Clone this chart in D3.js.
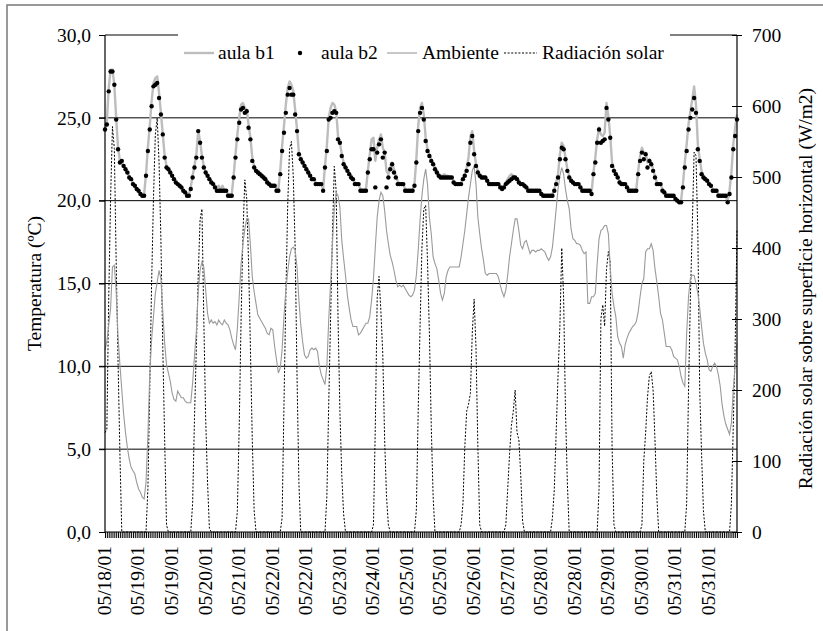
<!DOCTYPE html>
<html>
<head>
<meta charset="utf-8">
<script src="https://cdn.jsdelivr.net/npm/d3@7"></script>
<style>
  body { margin: 0; background: #fff; }
  svg text { font-family: "Liberation Serif", "Times New Roman", serif; fill: #000; }
</style>
</head>
<body>
<svg id="chart" width="823" height="631"></svg>
<script>
// hourly readings, first one is 05/18/01 09:00
const radiacion = [
  140,145,330,470,571,540,380,240,110,0, 0,0,0,0,0,0,0,0,0,0,0,0,
  0,60,200,350,470,560,583,520,410,260,130,10,
  0,0,0,0,0,0,0,0,0,0,0,0,0,
  40,160,260,360,440,455,300,160,70,5,
  0,0,0,0,0,0,0,0,0,0,0,0,0,0,
  30,150,300,420,496,470,380,260,130,30,
  0,0,0,0,0,0,0,0,0,0,0,0,0,0,
  20,180,330,460,540,550,500,400,220,70,
  0,0,0,0,0,0,0,0,0,0,0,0,0,0,
  50,180,300,420,515,480,300,170,80,25,
  0,0,0,0,0,0,0,0,0,0,0,0,0,0,0,
  10,150,330,360,310,250,130,50,10,
  0,0,0,0,0,0,0,0,0,0,0,0,0,0,
  30,170,290,400,455,460,380,280,150,50,
  0,0,0,0,0,0,0,0,0,0,0,0,0,0,
  10,40,120,170,180,195,280,328,260,120,10,
  0,0,0,0,0,0,0,0,0,0,0,0,0,
  10,60,110,150,170,200,140,130,80,15,
  0,0,0,0,0,0,0,0,0,0,0,0,0,0,0,
  20,60,140,220,290,400,330,170,70,
  0,0,0,0,0,0,0,0,0,0,0,0,0,0,0,0,
  60,300,320,290,370,395,380,120,10,
  0,0,0,0,0,0,0,0,0,0,0,0,0,0,
  10,100,140,190,220,226,200,130,50,
  0,0,0,0,0,0,0,0,0,0,0,0,0,0,0,
  40,200,330,430,535,530,420,200,110,30,
  0,0,0,0,0,0,0,0,0,0,0,0,0,0,
  40,150,260,425
];

const ambiente = [
  11.0,11.5,12.5,13.5,16.0,16.1,14.5,11.8,10.1,8.6,7.1,6.0,5.1,4.4,3.9,3.7,3.5,3.0,2.6,2.4,2.1,2.0,
  3.0,5.8,9.5,11.6,13.0,14.4,15.1,15.8,15.3,13.3,11.4,10.1,9.6,9.1,8.4,8.0,7.9,8.5,8.3,8.1,8.1,7.9,7.8,7.8,7.8,
  9.0,10.6,12.1,14.5,15.8,16.3,16.0,14.6,13.2,12.6,12.8,12.6,12.7,12.5,12.8,12.6,12.5,12.8,12.6,12.5,12.2,11.7,11.3,11.0,
  12.3,14.2,16.2,17.4,18.3,18.9,18.9,17.3,15.4,14.5,13.8,13.1,12.9,12.7,12.5,12.3,12.0,11.9,12.3,12.2,11.2,10.4,9.6,9.9,
  11.0,13.0,14.6,15.7,16.6,17.1,17.2,17.0,16.0,14.0,12.5,11.5,10.7,10.5,10.6,11.0,11.1,11.0,11.1,10.9,10.0,9.5,9.2,8.9,
  10.0,12.8,15.0,17.4,19.5,20.5,20.3,19.6,17.6,16.5,15.5,14.3,13.5,12.8,12.4,12.4,12.4,11.9,12.0,12.2,12.4,12.6,12.6,13.0,
  14.0,15.3,17.2,19.0,20.0,20.5,20.3,19.4,18.2,17.4,16.7,16.3,15.8,15.2,14.8,14.9,14.8,14.9,14.7,14.5,14.3,14.2,14.3,14.6,
  15.5,17.0,18.8,20.3,21.3,21.9,21.0,19.0,18.0,16.6,16.2,15.9,15.2,14.4,14.0,14.4,15.4,15.8,16.0,16.0,16.0,16.0,16.0,16.0,
  16.6,17.4,18.2,19.2,20.2,21.0,21.8,22.1,21.0,19.0,18.0,17.1,16.4,15.6,15.5,15.6,15.6,15.6,15.6,15.6,15.4,14.9,14.5,14.2,
  14.6,15.5,16.6,17.4,18.2,18.9,18.9,18.2,17.3,17.1,17.5,17.6,17.2,16.8,17.0,17.0,16.9,17.0,17.0,17.1,17.0,16.9,16.6,16.4,
  16.6,17.2,18.3,19.5,20.7,21.5,22.0,21.6,20.7,20.0,19.5,18.3,17.7,17.6,17.4,17.4,17.3,17.0,16.8,16.9,13.8,13.8,14.2,14.2,
  14.4,16.2,17.7,18.2,18.3,18.5,18.5,18.0,16.0,14.4,13.6,13.0,11.8,11.4,11.2,10.5,11.3,11.7,12.0,12.2,12.4,12.5,12.7,13.3,
  14.2,15.0,15.3,16.9,17.1,17.1,17.4,17.0,15.9,15.1,14.2,13.2,12.8,12.0,11.2,11.2,11.2,11.0,10.6,10.5,10.4,10.0,9.4,9.0,
  8.8,12.0,14.2,15.3,15.5,15.5,15.0,14.4,13.5,12.4,11.4,10.8,10.4,9.8,9.7,10.0,10.2,10.0,9.5,8.8,7.7,7.0,6.5,6.2,
  5.9,6.6,8.6,10.0,11.4
];

const aulaB1 = [
  24.2,24.8,26.8,27.9,27.9,27.0,25.0,23.2,22.4,22.3,22.1,21.9,21.7,21.5,21.3,21.1,20.9,20.7,20.6,20.4,20.3,20.4,
  21.6,23.2,24.5,26.0,27.1,27.4,27.5,26.5,25.3,24.0,22.7,22.1,21.9,21.7,21.5,21.3,21.1,21.0,20.9,20.8,20.6,20.5,20.4,20.4,
  20.8,21.5,22.1,22.8,24.2,23.6,22.7,22.1,21.7,21.5,21.4,21.2,21.1,20.9,20.8,20.9,20.7,20.9,20.6,20.6,20.4,20.3,20.4,
  21.5,22.8,24.0,25.0,25.8,25.9,25.6,25.5,24.6,23.8,22.6,22.1,21.9,21.8,21.7,21.6,21.5,21.4,21.2,21.1,21.0,20.9,20.9,20.7,20.7,
  21.8,23.3,24.5,25.8,26.8,27.2,27.0,26.6,25.5,24.3,22.9,22.6,22.4,22.2,22.0,21.8,21.6,21.4,21.3,21.1,21.0,21.0,21.0,20.7,
  22.1,23.3,25.0,25.6,25.9,25.8,25.4,23.9,23.5,22.8,22.3,22.1,21.9,21.7,21.5,21.3,21.1,21.0,21.0,20.7,20.6,20.6,20.7,
  21.8,22.8,23.7,23.8,22.4,23.2,23.7,24.0,23.2,22.9,21.8,21.6,22.0,22.3,21.9,21.5,21.2,21.0,21.0,21.0,20.7,20.6,20.6,20.6,20.6,21.0,
  22.5,24.5,25.6,25.9,25.2,23.8,23.1,22.8,22.5,22.3,22.0,21.8,21.6,21.5,21.5,21.6,21.5,21.5,21.4,21.4,21.2,21.1,21.0,21.0,21.1,
  21.4,21.6,22.0,22.6,23.9,24.2,23.0,22.2,21.8,21.6,21.5,21.4,21.4,21.3,21.1,21.0,21.0,21.0,21.0,21.0,20.9,20.8,20.9,
  21.1,21.3,21.5,21.6,21.5,21.4,21.3,21.2,21.0,21.0,20.9,20.8,20.7,20.6,20.6,20.6,20.6,20.6,20.6,20.5,20.4,20.3,20.3,20.3,20.3,20.4,20.7,21.1,
  21.6,22.8,23.5,23.3,22.6,21.9,21.5,21.3,21.1,21.0,21.0,21.0,20.9,20.7,20.6,20.6,20.6,20.6,20.5,
  21.7,22.6,23.7,24.4,24.0,23.9,24.1,25.9,25.1,23.9,22.3,21.9,21.7,21.5,21.2,21.1,21.0,21.0,20.9,20.7,20.6,20.6,20.6,20.7,
  21.8,22.7,23.2,22.9,22.9,22.3,22.5,22.3,21.9,21.5,21.1,21.0,21.0,20.7,20.6,20.4,20.3,20.3,20.3,20.3,20.2,20.0,19.9,20.0,
  21.0,22.3,23.4,24.6,25.4,26.1,26.9,25.8,23.4,22.5,21.8,21.5,21.4,21.2,21.1,20.9,20.7,20.6,20.6,20.4,20.3,20.3,20.3,20.2,20.0,
  20.6,21.7,23.4,24.4,25.2
];

const aulaB2 = [
  24.3,24.6,26.6,27.8,27.8,27.0,24.9,23.1,22.3,22.4,22.1,21.9,21.7,21.4,21.3,21.0,20.9,20.7,20.6,20.4,20.3,20.3,
  21.5,23.0,24.3,25.7,26.9,27.0,27.1,26.2,25.2,24.0,22.6,22.0,21.9,21.7,21.5,21.3,21.1,21.0,20.9,20.8,20.6,20.5,20.3,20.3,
  20.7,21.4,22.0,22.6,24.2,23.5,22.6,22.0,21.7,21.5,21.3,21.1,21.0,20.8,20.6,20.6,20.6,20.6,20.6,20.6,20.3,20.3,20.3,
  21.4,22.6,23.7,24.7,25.5,25.6,25.3,25.4,24.4,23.7,22.4,22.0,21.8,21.7,21.6,21.5,21.4,21.3,21.1,21.0,20.9,20.9,20.9,20.6,20.6,
  21.6,23.0,24.1,25.3,26.4,26.8,26.4,26.4,25.2,24.2,22.8,22.5,22.3,22.1,21.9,21.7,21.5,21.3,21.3,21.0,21.0,21.0,21.0,20.6,
  22.0,23.0,24.9,25.0,25.3,25.4,25.3,23.7,23.5,22.7,22.2,22.0,21.8,21.6,21.4,21.3,21.0,21.0,21.0,20.6,20.6,20.6,20.6,
  21.7,22.5,23.1,23.1,20.8,22.9,23.4,23.7,22.6,22.9,20.8,21.4,21.9,22.2,21.7,21.4,21.0,21.0,21.0,21.0,20.6,20.6,20.6,20.6,20.6,20.9,
  22.3,24.2,25.3,25.6,24.9,23.6,23.0,22.7,22.4,22.2,21.9,21.7,21.5,21.4,21.4,21.4,21.4,21.4,21.4,21.4,21.1,21.0,21.0,21.0,21.0,
  21.3,21.5,21.8,22.2,23.5,23.9,22.8,22.1,21.7,21.5,21.4,21.4,21.4,21.2,21.0,21.0,21.0,21.0,21.0,21.0,20.8,20.7,20.8,
  21.0,21.1,21.2,21.3,21.4,21.4,21.3,21.1,21.0,21.0,20.9,20.8,20.6,20.6,20.6,20.6,20.6,20.6,20.6,20.4,20.3,20.3,20.3,20.3,20.3,20.3,20.6,21.0,
  21.4,22.5,23.2,23.1,22.5,21.8,21.4,21.2,21.1,21.0,21.0,21.0,20.8,20.6,20.6,20.6,20.6,20.6,20.4,
  21.6,22.3,23.5,24.3,23.5,23.6,23.7,25.6,24.9,23.8,22.1,21.8,21.6,21.4,21.1,21.0,21.0,21.0,20.8,20.6,20.6,20.6,20.6,20.6,
  21.6,22.4,22.9,22.5,22.8,22.0,22.4,22.2,21.8,21.4,21.0,21.0,21.0,20.6,20.5,20.3,20.3,20.3,20.3,20.3,20.1,20.0,19.9,19.9,
  20.8,22.0,23.0,24.3,25.0,25.5,26.2,25.3,23.1,22.4,21.6,21.4,21.3,21.2,21.0,20.9,20.6,20.6,20.6,20.3,20.3,20.3,20.3,20.3,19.9,
  20.4,21.4,23.1,23.9,24.9
];

// Excel style category axis: one label every 18 hours
const dateLabels = [
  "05/18/01","05/19/01","05/19/01","05/20/01","05/21/01","05/22/01","05/22/01",
  "05/23/01","05/24/01","05/25/01","05/25/01","05/26/01","05/27/01","05/28/01",
  "05/28/01","05/29/01","05/30/01","05/31/01","05/31/01"
];
const labelEvery = 18;
const tempTicks = [0, 5, 10, 15, 20, 25, 30];
const radTicks = [0, 100, 200, 300, 400, 500, 600, 700];

const svg = d3.select('#chart');
const pL = 105, pR = 737, pT = 35, pB = 532;
const fontSize = '19.5px';
const serif = '"Liberation Serif", "Times New Roman", serif';

// outer chart frame
svg.append('rect')
    .attr('x', 7).attr('y', 5)
    .attr('width', 840).attr('height', 650)
    .attr('fill', 'none')
    .attr('stroke', '#808080')
    .attr('stroke-width', 1.6);

const n = aulaB2.length;
const x = d3.scaleLinear().domain([0, n - 1]).range([pL, pR]);
const yT = d3.scaleLinear().domain([0, 30]).range([pB, pT]);
const yR = d3.scaleLinear().domain([0, 700]).range([pB, pT]);

// horizontal grid on the temperature ticks
svg.append('g')
    .selectAll('line')
    .data(tempTicks.filter(d => d > 0 && d < 30))
    .enter()
    .append('line')
    .attr('x1', pL - 6).attr('x2', pR)
    .attr('y1', d => yT(d)).attr('y2', d => yT(d))
    .attr('stroke', '#000')
    .attr('stroke-width', 1);

// plot area top border
svg.append('line')
    .attr('x1', pL).attr('x2', pR)
    .attr('y1', pT).attr('y2', pT)
    .attr('stroke', '#000');

// radiation, dotted, on right axis
svg.append('path')
    .datum(radiacion)
    .attr('fill', 'none')
    .attr('stroke', '#000')
    .attr('stroke-width', 1)
    .attr('stroke-dasharray', '2,1.6')
    .attr('d', d3.line().x((d, i) => x(i)).y(d => yR(d)));

// ambient temperature
svg.append('path')
    .datum(ambiente)
    .attr('fill', 'none')
    .attr('stroke', '#9a9a9a')
    .attr('stroke-width', 1.1)
    .attr('d', d3.line().x((d, i) => x(i)).y(d => yT(d)));

// aula b1
svg.append('path')
    .datum(aulaB1)
    .attr('fill', 'none')
    .attr('stroke', '#bdbdbd')
    .attr('stroke-width', 2.4)
    .attr('stroke-linejoin', 'round')
    .attr('d', d3.line().x((d, i) => x(i)).y(d => yT(d)));

// aula b2 markers
svg.append('g')
    .selectAll('circle')
    .data(aulaB2)
    .enter()
    .append('circle')
    .attr('cx', (d, i) => x(i))
    .attr('cy', d => yT(d))
    .attr('r', 2.2)
    .attr('fill', '#000');

// left axis
const axL = svg.append('g')
    .attr('transform', `translate(${pL},0)`)
    .call(d3.axisLeft(yT).tickValues(tempTicks).tickSize(6).tickPadding(8)
        .tickFormat(d => d3.format('.1f')(d).replace('.', ',')));

// right axis, ticks cross the line
const axR = svg.append('g')
    .attr('transform', `translate(${pR},0)`)
    .call(d3.axisRight(yR).tickValues(radTicks).tickSize(5).tickPadding(10));
axR.selectAll('.tick line').attr('x1', -5);

// bottom axis, one tick per hour
const axB = svg.append('g')
    .attr('transform', `translate(0,${pB})`)
    .call(d3.axisBottom(x).tickValues(d3.range(n)).tickSize(6).tickFormat(''));
axB.selectAll('.tick line').attr('stroke', '#000').attr('stroke-width', 1);

[axL, axR, axB].forEach(g => {
    g.attr('font-family', serif);
    g.select('.domain').attr('stroke', '#000').attr('stroke-width', 1.2);
    g.selectAll('text').style('font-size', fontSize).style('font-family', serif);
});
axB.select('.domain').attr('d', `M${pL},0H${pR}`);
axL.select('.domain').attr('d', `M0,${pB}V${pT}`);
axR.select('.domain').attr('d', `M0,${pB}V${pT}`);

// date labels
svg.append('g')
    .selectAll('text')
    .data(dateLabels)
    .enter()
    .append('text')
    .attr('transform', (d, k) => `translate(${x(k * labelEvery) - 1},${pB + 14}) rotate(-90)`)
    .attr('text-anchor', 'end')
    .attr('dy', '0.35em')
    .style('font-size', fontSize)
    .style('font-family', serif)
    .text(d => d);

// axis titles
svg.append('text')
    .attr('transform', `translate(34,${(pT + pB) / 2}) rotate(-90)`)
    .attr('text-anchor', 'middle')
    .attr('dy', '0.35em')
    .style('font-size', fontSize)
    .style('font-family', serif)
    .text('Temperatura (ºC)');

svg.append('text')
    .attr('transform', `translate(805,${(pT + pB) / 2 + 5}) rotate(-90)`)
    .attr('text-anchor', 'middle')
    .attr('dy', '0.35em')
    .style('font-size', fontSize)
    .style('font-family', serif)
    .text('Radiación solar sobre superficie horizontal (W/m2)');

// legend, white box over the top border
const legend = svg.append('g');
legend.append('rect')
    .attr('x', 178).attr('y', 29)
    .attr('width', 492).attr('height', 40)
    .attr('fill', '#fff');
const ly = 53;
legend.append('line').attr('x1', 184).attr('x2', 214).attr('y1', ly).attr('y2', ly)
    .attr('stroke', '#bdbdbd').attr('stroke-width', 2.4);
legend.append('circle').attr('cx', 300).attr('cy', ly).attr('r', 2.2).attr('fill', '#000');
legend.append('line').attr('x1', 387).attr('x2', 417).attr('y1', ly).attr('y2', ly)
    .attr('stroke', '#9a9a9a').attr('stroke-width', 1.1);
legend.append('line').attr('x1', 504).attr('x2', 537).attr('y1', ly).attr('y2', ly)
    .attr('stroke', '#000').attr('stroke-dasharray', '2,1.6');
[['aula b1', 218], ['aula b2', 321], ['Ambiente', 422], ['Radiación solar', 542]].forEach(([t, tx]) => {
    legend.append('text')
        .attr('x', tx).attr('y', ly)
        .attr('dy', '0.33em')
        .style('font-size', fontSize)
        .style('font-family', serif)
        .text(t);
});
</script>
</body>
</html>
